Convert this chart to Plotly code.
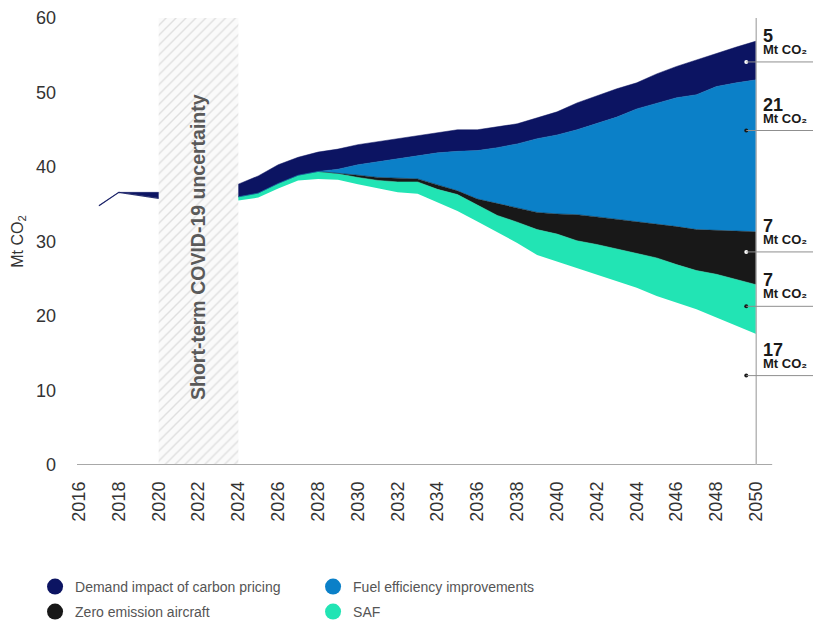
import plotly.graph_objects as go

# ---------------- data ----------------
hist_years = [2017, 2018, 2019, 2020]
hist_emissions = [34.8, 36.6, 36.2, 35.8]
hist_demand = [0.0, 0.0, 0.4, 0.8]

years = list(range(2024, 2051))
remaining = [35.5, 35.9, 37.1, 38.2, 38.4, 38.3, 37.7, 37.2, 36.6, 36.4, 35.2, 34.1, 32.7, 31.3,
             29.8, 28.2, 27.3, 26.4, 25.5, 24.7, 23.8, 22.7, 21.8, 20.9, 19.8, 18.7, 17.6]
saf = [0.5, 0.6, 0.7, 0.7, 1.0, 0.8, 0.9, 1.0, 1.4, 1.6, 1.8, 2.2, 2.2, 2.2,
       2.8, 3.4, 3.7, 3.7, 4.1, 4.3, 4.5, 5.1, 5.1, 5.2, 5.8, 6.2, 6.6]
zero_emission = [0.0, 0.0, 0.0, 0.0, 0.0, 0.1, 0.3, 0.4, 0.5, 0.4, 0.6, 0.5, 0.8, 1.6,
                 2.0, 2.3, 2.7, 3.5, 3.7, 4.0, 4.3, 4.5, 5.1, 5.5, 5.9, 6.5, 7.1]
fuel_efficiency = [0.0, 0.0, 0.0, 0.0, 0.0, 0.5, 1.4, 2.1, 2.5, 3.0, 4.3, 5.3, 6.5, 7.5,
                   8.5, 9.9, 10.6, 11.4, 12.5, 13.7, 15.2, 16.3, 17.3, 18.1, 19.3, 19.9, 20.4]
demand = [1.7, 2.3, 2.5, 2.4, 2.6, 2.7, 2.7, 2.7, 2.8, 2.9, 2.8, 2.9, 2.8, 2.8,
          2.7, 2.8, 3.1, 3.6, 3.8, 3.8, 3.5, 3.9, 4.2, 4.7, 4.5, 4.8, 5.2]

callout_values = [5, 21, 7, 7, 17]
callout_levels = [54.1, 44.9, 28.6, 21.3, 12.0]

covid_start, covid_end = 2020, 2024
covid_label = "Short-term COVID-19 uncertainty"

x_ticks = list(range(2016, 2051, 2))
y_ticks = list(range(0, 61, 10))

# ---------------- style ----------------
FONT = "Liberation Sans, Arial, sans-serif"
NAVY = "#0c1462"
BLUE = "#0b80c8"
BLACK = "#181818"
TEAL = "#22e4b4"
X_RANGE = [2015.9, 2052.85]
Y_RANGE = [0, 60]
dot_colors = ["white", BLACK, "white", BLACK, BLACK]

fig = go.Figure()

# COVID hatched band
fig.add_trace(go.Scatter(
    x=[covid_start, covid_end, covid_end, covid_start, covid_start],
    y=[Y_RANGE[0], Y_RANGE[0], Y_RANGE[1], Y_RANGE[1], Y_RANGE[0]],
    fill="toself", mode="lines", line=dict(width=0, color="rgba(0,0,0,0)"),
    fillcolor="#fafafa",
    fillpattern=dict(shape="/", fgcolor="#c4c4c4", bgcolor="#fafafa", size=7, solidity=0.2),
    hoverinfo="skip", showlegend=False))

# historical
fig.add_trace(go.Scatter(x=hist_years, y=hist_emissions, stackgroup="hist", mode="lines",
                         line=dict(width=1.2, color="#2a3170"), fillcolor="rgba(0,0,0,0)",
                         showlegend=False, hoverinfo="skip"))
fig.add_trace(go.Scatter(x=hist_years, y=hist_demand, stackgroup="hist", mode="lines",
                         line=dict(width=0.5, color=NAVY), fillcolor=NAVY,
                         showlegend=False, name="Demand impact of carbon pricing"))

# projection stack
fig.add_trace(go.Scatter(x=years, y=remaining, stackgroup="proj", mode="lines",
                         line=dict(width=0, color="rgba(0,0,0,0)"), fillcolor="rgba(0,0,0,0)",
                         showlegend=False, name="Remaining emissions"))
for vals, col, name in [(saf, TEAL, "SAF"),
                        (zero_emission, BLACK, "Zero emission aircraft"),
                        (fuel_efficiency, BLUE, "Fuel efficiency improvements"),
                        (demand, NAVY, "Demand impact of carbon pricing")]:
    fig.add_trace(go.Scatter(x=years, y=vals, stackgroup="proj", mode="lines",
                             line=dict(width=0.5, color=col), fillcolor=col,
                             showlegend=False, name=name))

# legend entries (circles), two rows
for name, col, lg in [("Demand impact of carbon pricing", NAVY, "legend"),
                      ("Fuel efficiency improvements", BLUE, "legend"),
                      ("Zero emission aircraft", BLACK, "legend2"),
                      ("SAF", TEAL, "legend2")]:
    fig.add_trace(go.Scatter(x=[None], y=[None], mode="markers", name=name, legend=lg,
                             marker=dict(size=17, color=col, symbol="circle")))

# callout dots
fig.add_trace(go.Scatter(x=[2049.5] * len(callout_levels), y=callout_levels, mode="markers",
                         marker=dict(size=4, color=dot_colors), showlegend=False,
                         hoverinfo="skip"))

shapes = [
    dict(type="line", xref="x", yref="y", x0=X_RANGE[0], x1=2050.8, y0=0, y1=0,
         line=dict(color="#a8a8a8", width=2), layer="above"),
    dict(type="line", xref="x", yref="y", x0=2050, x1=2050, y0=0, y1=Y_RANGE[1],
         line=dict(color="#b8b8b8", width=1.5), layer="above"),
]
annotations = [
    dict(x=(covid_start + covid_end) / 2, y=29.2, xref="x", yref="y", text=f"<b>{covid_label}</b>",
         textangle=-90, showarrow=False, font=dict(family=FONT, size=19.5, color="#5a5a5a")),
]
for v, lvl in zip(callout_values, callout_levels):
    shapes.append(dict(type="line", xref="x", yref="y", x0=2049.5, x1=X_RANGE[1], y0=lvl, y1=lvl,
                       line=dict(color="#8f8f8f", width=1)))
    annotations.append(dict(
        x=2050, y=lvl, xref="x", yref="y",
        text=(f"<b><span style='font-size:18px'>{v}</span><br>"
              f"<span style='font-size:13px'>Mt CO₂</span></b>"),
        xanchor="left", yanchor="bottom", align="left", xshift=5, yshift=3,
        showarrow=False, font=dict(family=FONT, size=9.5, color="#1a1a1a")))

legend_common = dict(orientation="h", xanchor="left", yanchor="top", x=-0.057,
                     entrywidth=233, entrywidthmode="pixels", traceorder="normal",
                     font=dict(family=FONT, size=14, color="#555555"),
                     itemclick=False, itemdoubleclick=False)

fig.update_layout(
    width=813, height=628,
    margin=dict(l=77, r=0, t=18, b=162),
    paper_bgcolor="white", plot_bgcolor="white",
    font=dict(family=FONT, color="#333333"),
    showlegend=True,
    legend=dict(legend_common, y=-0.2344),
    legend2=dict(legend_common, y=-0.2924),
    shapes=shapes,
    annotations=annotations,
)
fig.update_xaxes(range=X_RANGE, tickvals=x_ticks, tickangle=-90, showgrid=False, zeroline=False,
                 showline=False, ticks="", ticklabelstandoff=12,
                 tickfont=dict(family=FONT, size=18, color="#333333"))
fig.update_yaxes(range=Y_RANGE, tickvals=y_ticks, showgrid=False, zeroline=False, showline=False,
                 ticks="", ticklabelstandoff=20,
                 tickfont=dict(family=FONT, size=18, color="#333333"),
                 title=dict(text="Mt CO<sub>2</sub>", standoff=8,
                            font=dict(family=FONT, size=16, color="#333333")))

fig.write_html("out.html")
